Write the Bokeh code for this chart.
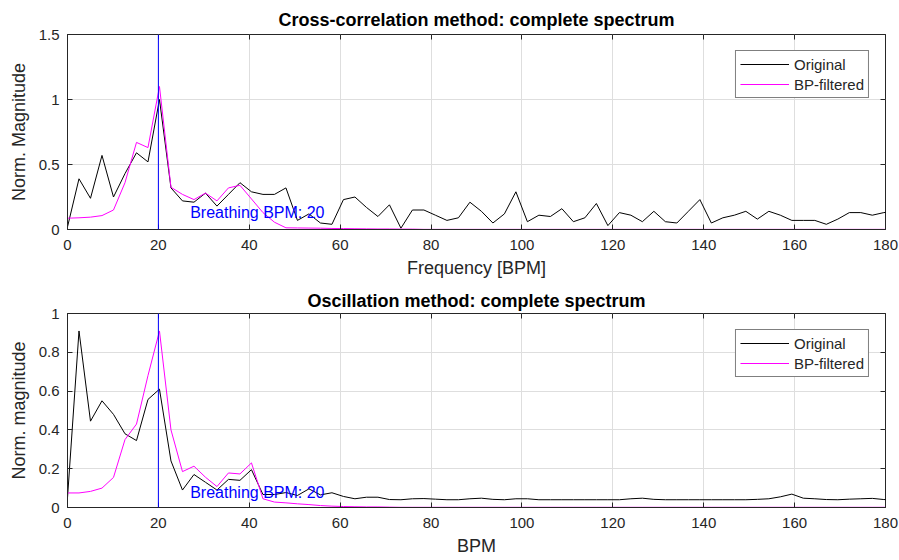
from bokeh.plotting import figure
from bokeh.layouts import column
from bokeh.models import (Range1d, FixedTicker, LinearAxis, Span, Label, Legend,
                          LegendItem, CustomJSTickFormatter)
from bokeh.embed import file_html
from bokeh.resources import INLINE

# ---------------- data ----------------
freq = [0.0, 2.53, 5.06, 7.59, 10.12, 12.65, 15.18, 17.71, 20.24, 22.77, 25.3, 27.83,
        30.36, 32.89, 35.42, 37.95, 40.48, 43.01, 45.54, 48.07, 50.6, 53.13, 55.66, 58.19,
        60.72, 63.25, 65.78, 68.31, 70.84, 73.37, 75.9, 78.43, 80.96, 83.49, 86.02, 88.55,
        91.08, 93.61, 96.14, 98.67, 101.2, 103.73, 106.26, 108.79, 111.32, 113.85, 116.38,
        118.91, 121.44, 123.97, 126.5, 129.03, 131.56, 134.09, 136.62, 139.15, 141.68,
        144.21, 146.74, 149.27, 151.8, 154.33, 156.86, 159.39, 161.92, 164.45, 166.98,
        169.51, 172.04, 174.57, 177.1, 179.63, 182.16]

xcorr_orig = [0.02, 0.39, 0.24, 0.57, 0.25, 0.43, 0.59, 0.52, 1.00, 0.32, 0.22, 0.21,
              0.28, 0.18, 0.27, 0.36, 0.29, 0.27, 0.27, 0.32, 0.07, 0.12, 0.05, 0.04,
              0.23, 0.25, 0.17, 0.10, 0.19, 0.01, 0.15, 0.15, 0.11, 0.07, 0.09, 0.21,
              0.14, 0.05, 0.12, 0.29, 0.06, 0.11, 0.10, 0.16, 0.06, 0.09, 0.20, 0.03,
              0.13, 0.11, 0.06, 0.14, 0.06, 0.05, 0.14, 0.23, 0.05, 0.09, 0.11, 0.14,
              0.08, 0.14, 0.11, 0.07, 0.07, 0.07, 0.04, 0.08, 0.13, 0.13, 0.11, 0.13, 0.14]

xcorr_bp = [0.087, 0.09, 0.095, 0.107, 0.15, 0.36, 0.67, 0.63, 1.10, 0.325, 0.27, 0.23,
            0.28, 0.22, 0.32, 0.34, 0.235, 0.13, 0.056, 0.013, 0.012, 0.011, 0.01, 0.008,
            0.007, 0.006, 0.005, 0.004, 0.004, 0.003, 0.003, 0.001, 0.001, 0.001, 0.001,
            0.001, 0.001, 0.001, 0.001, 0.001, 0.001, 0.001, 0.001, 0.001, 0.001, 0.001,
            0.001, 0.001, 0.001, 0.001, 0.001, 0.001, 0.001, 0.001, 0.001, 0.001, 0.001,
            0.001, 0.001, 0.001, 0.001, 0.001, 0.001, 0.001, 0.001, 0.001, 0.001, 0.001,
            0.001, 0.001, 0.001, 0.001, 0.001]

osc_orig = [0.05, 0.91, 0.445, 0.55, 0.48, 0.38, 0.345, 0.557, 0.61, 0.24, 0.09, 0.17,
            0.13, 0.09, 0.145, 0.14, 0.195, 0.067, 0.067, 0.077, 0.062, 0.096, 0.065, 0.076,
            0.057, 0.045, 0.053, 0.053, 0.041, 0.04, 0.045, 0.046, 0.043, 0.04, 0.04, 0.045,
            0.048, 0.042, 0.04, 0.045, 0.045, 0.04, 0.04, 0.04, 0.04, 0.04, 0.04, 0.04,
            0.04, 0.045, 0.048, 0.042, 0.04, 0.04, 0.04, 0.04, 0.04, 0.04, 0.04, 0.04,
            0.042, 0.045, 0.055, 0.069, 0.048, 0.045, 0.041, 0.04, 0.043, 0.045, 0.047,
            0.041, 0.04]

osc_bp = [0.075, 0.075, 0.083, 0.10, 0.155, 0.35, 0.43, 0.68, 0.91, 0.40, 0.185, 0.213,
          0.156, 0.108, 0.178, 0.173, 0.23, 0.045, 0.028, 0.024, 0.019, 0.015, 0.01, 0.007,
          0.005, 0.004, 0.003, 0.003, 0.002, 0.001, 0.001, 0.001, 0.001, 0.001, 0.001,
          0.001, 0.001, 0.001, 0.001, 0.001, 0.001, 0.001, 0.001, 0.001, 0.001, 0.001,
          0.001, 0.001, 0.001, 0.001, 0.001, 0.001, 0.001, 0.001, 0.001, 0.001, 0.001,
          0.001, 0.001, 0.001, 0.001, 0.001, 0.001, 0.001, 0.001, 0.001, 0.001, 0.001,
          0.001, 0.001, 0.001, 0.001, 0.001]

x_ticks = [0, 20, 40, 60, 80, 100, 120, 140, 160, 180]
y_ticks_top = [0, 0.5, 1, 1.5]
y_ticks_bottom = [0, 0.2, 0.4, 0.6, 0.8, 1]
breathing_bpm = 20

FONT = "Liberation Sans"
AXC = "#262626"
GRID = "#dedede"

fmt_code = "return String(Math.round(tick*10)/10);"


def make_plot(title, xlabel, ylabel, yticks, ymax, orig, bp, label_y,
              top_border, bottom_border, frame_h, title_standoff, xlabel_standoff):
    p = figure(frame_width=818, frame_height=frame_h,
               x_range=Range1d(0, 180), y_range=Range1d(0, ymax),
               output_backend="svg", toolbar_location=None,
               min_border_left=67, min_border_right=14,
               min_border_top=top_border, min_border_bottom=bottom_border,
               background_fill_color="white", border_fill_color="white")
    p.outline_line_color = AXC
    p.outline_line_width = 1

    p.title.text = title
    p.title.text_font = FONT
    p.title.text_font_size = "18px"
    p.title.text_font_style = "bold"
    p.title.text_color = "#000000"
    p.title.align = "center"
    p.title.standoff = title_standoff

    xt = FixedTicker(ticks=x_ticks)
    yt = FixedTicker(ticks=yticks)
    p.xaxis.ticker = xt
    p.yaxis.ticker = yt
    p.yaxis.formatter = CustomJSTickFormatter(code=fmt_code)
    p.xgrid.ticker = xt
    p.ygrid.ticker = yt
    p.grid.grid_line_color = GRID
    p.grid.grid_line_width = 1

    for ax in (p.xaxis[0], p.yaxis[0]):
        ax.axis_line_color = AXC
        ax.major_tick_line_color = AXC
        ax.major_tick_in = 5
        ax.major_tick_out = 0
        ax.minor_tick_line_color = None
        ax.major_label_text_font = FONT
        ax.major_label_text_font_size = "15px"
        ax.major_label_text_color = AXC
        ax.axis_label_text_font = FONT
        ax.axis_label_text_font_size = "18px"
        ax.axis_label_text_font_style = "normal"
        ax.axis_label_text_color = AXC
    p.xaxis.axis_label = xlabel
    p.yaxis.axis_label = ylabel
    p.xaxis.major_label_standoff = 10
    p.xaxis.axis_label_standoff = xlabel_standoff
    p.yaxis.major_label_standoff = 8
    p.yaxis.axis_label_standoff = 7

    # box ticks on top and right (no labels drawn)
    for loc, tk in (("above", xt), ("right", yt)):
        ax = LinearAxis(ticker=tk, major_label_text_font_size="1px",
                        major_label_text_color=None,
                        major_label_standoff=0, major_tick_in=5, major_tick_out=0,
                        minor_tick_line_color=None, axis_line_color=None,
                        major_tick_line_color=AXC)
        p.add_layout(ax, loc)

    r1 = p.line(freq, orig, line_color="#000000", line_width=1)
    r2 = p.line(freq, bp, line_color="#ff00ff", line_width=1)

    p.add_layout(Span(location=breathing_bpm, dimension="height",
                      line_color="#0000ff", line_width=1))
    p.add_layout(Label(x=27, y=label_y, text="Breathing BPM: %d" % breathing_bpm,
                       text_color="#0000ff", text_font=FONT, text_font_size="16px",
                       text_baseline="middle", text_align="left"))

    legend = Legend(items=[LegendItem(label="Original", renderers=[r1]),
                           LegendItem(label="BP-filtered", renderers=[r2])],
                    location="top_right", margin=16, padding=4, spacing=2,
                    glyph_width=49, glyph_height=18, label_height=18,
                    label_standoff=5, border_line_color="#000000",
                    border_line_width=1, background_fill_color="white",
                    background_fill_alpha=1.0,
                    label_text_font=FONT, label_text_font_size="15px",
                    label_text_color=AXC)
    p.add_layout(legend)
    return p


p1 = make_plot("Cross-correlation method: complete spectrum", "Frequency [BPM]",
               "Norm. Magnitude", y_ticks_top, 1.5, xcorr_orig, xcorr_bp, 0.13,
               34, 55, 195, 9, 5)
p2 = make_plot("Oscillation method: complete spectrum", "BPM",
               "Norm. magnitude", y_ticks_bottom, 1.0, osc_orig, osc_bp, 0.078,
               29, 53, 194, 6, 5)

layout = column(p1, p2, spacing=0)

open("out.html", "w").write(file_html(layout, INLINE))
